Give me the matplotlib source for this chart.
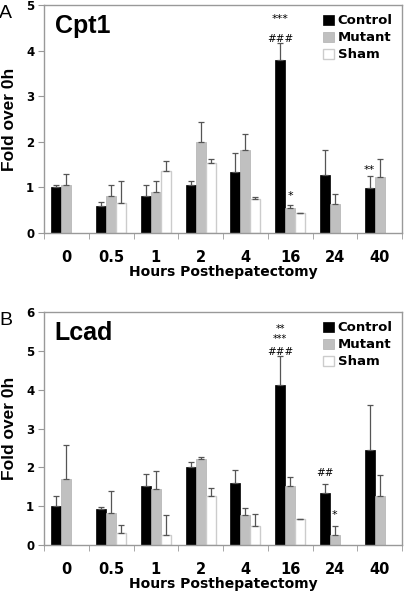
import numpy as np
import matplotlib.pyplot as plt

hours = ['0', '0.5', '1', '2', '4', '16', '24', '40']

# Panel A - Cpt1
cpt1_control = [1.00, 0.59, 0.81, 1.05, 1.33, 3.79, 1.27, 0.98]
cpt1_control_err = [0.06, 0.09, 0.25, 0.08, 0.42, 0.37, 0.56, 0.28]
cpt1_mutant = [1.05, 0.82, 0.91, 2.00, 1.83, 0.55, 0.645, 1.23]
cpt1_mutant_err = [0.25, 0.23, 0.23, 0.44, 0.35, 0.07, 0.215, 0.39]
cpt1_sham = [np.nan, 0.65, 1.36, 1.53, 0.755, 0.43, np.nan, np.nan]
cpt1_sham_err = [0, 0.49, 0.21, 0.10, 0.045, 0, 0, 0]

# Panel B - Lcad
lcad_control = [1.00, 0.93, 1.53, 2.00, 1.60, 4.13, 1.34, 2.45]
lcad_control_err = [0.25, 0.05, 0.29, 0.15, 0.32, 0.74, 0.24, 1.16]
lcad_mutant = [1.69, 0.82, 1.45, 2.22, 0.77, 1.51, 0.25, 1.25]
lcad_mutant_err = [0.89, 0.56, 0.46, 0.05, 0.17, 0.23, 0.24, 0.55]
lcad_sham = [np.nan, 0.32, 0.25, 1.27, 0.48, 0.68, np.nan, np.nan]
lcad_sham_err = [0, 0.19, 0.52, 0.19, 0.31, 0, 0, 0]

bold = dict(family='DejaVu Sans', weight='bold')
err_kw = dict(ecolor='#555555', elinewidth=0.9, capsize=2.5, capthick=0.9)
W = 0.2235


def panel(ax, title, letter, ctrl, ce, mut, me, sham, se, ymax, notes):
    x = np.arange(len(hours))
    ax.bar(x - W, ctrl, W, color='black', edgecolor='black', linewidth=0.5,
           yerr=[np.zeros(8), ce], error_kw=err_kw, label='Control')
    ax.bar(x, mut, W, color='#c0c0c0', edgecolor='#b0b0b0', linewidth=0.5,
           yerr=[np.zeros(8), me], error_kw=err_kw, label='Mutant')
    ax.bar(x + W, sham, W, color='white', edgecolor='#cccccc', linewidth=1.0,
           yerr=[np.zeros(8), se], error_kw=err_kw, label='Sham')

    ax.set_xlim(-0.5, 7.5)
    ax.set_ylim(0, ymax)
    ax.set_yticks(range(ymax + 1))
    ax.set_yticklabels([str(v) for v in range(ymax + 1)], fontsize=8.5, **bold)
    ax.set_xticks(x)
    ax.set_xticklabels(hours, fontsize=10.5, **bold)
    ax.tick_params(axis='x', length=0, pad=12)
    ax.set_xticks(np.arange(-0.5, 8, 1), minor=True)
    ax.tick_params(axis='x', which='minor', length=4, color='#999999')
    ax.tick_params(axis='y', length=4, color='#999999', pad=3)
    for s in ax.spines.values():
        s.set_color('#999999')
        s.set_linewidth(1.0)
    ax.set_xlabel('Hours Posthepatectomy', fontsize=10, labelpad=0, **bold)
    ax.set_ylabel('Fold over 0h', fontsize=12.5, family='Liberation Sans',
                  weight='semibold')
    ax.yaxis.label.set_verticalalignment('center')
    ax.yaxis.set_label_coords(-0.097, 0.5)
    ax.text(0.03, 0.91, title, transform=ax.transAxes, fontsize=18,
            family='Liberation Sans', weight='bold', va='center')
    ax.text(-0.125, 1.0, letter, transform=ax.transAxes, fontsize=14,
            family='Liberation Sans', va='top', ha='left')
    ax.legend(loc='upper right', bbox_to_anchor=(1.0, 1.0), frameon=False,
              prop=dict(size=9.5, **bold), handlelength=0.8, handleheight=0.8,
              handletextpad=0.3, labelspacing=0.3, borderaxespad=0.3)
    for xi, yi, txt, fs in notes:
        ax.text(xi, yi, txt, ha='center', va='center', fontsize=fs,
                family='DejaVu Sans')


fig = plt.figure(figsize=(4.05, 5.93), dpi=100)
H = 593
axA = fig.add_axes([44 / 405, (H - 233) / H, 358 / 405, 228 / H])
axB = fig.add_axes([44 / 405, (H - 545) / H, 358 / 405, 233 / H])

panel(axA, 'Cpt1', 'A', cpt1_control, cpt1_control_err, cpt1_mutant,
      cpt1_mutant_err, cpt1_sham, cpt1_sham_err, 5,
      [(5 - W, 4.70, '***', 8), (5 - W, 4.26, '###', 7.5),
       (5, 0.82, '*', 8), (7 - W, 1.38, '**', 8)])
panel(axB, 'Lcad', 'B', lcad_control, lcad_control_err, lcad_mutant,
      lcad_mutant_err, lcad_sham, lcad_sham_err, 6,
      [(5 - W, 5.56, '**', 7), (5 - W, 5.30, '***', 7), (5 - W, 4.98, '###', 7.5),
       (6 - W, 1.86, '##', 7.5), (6, 0.76, '*', 8)])

fig.savefig('out.png', dpi=100)
